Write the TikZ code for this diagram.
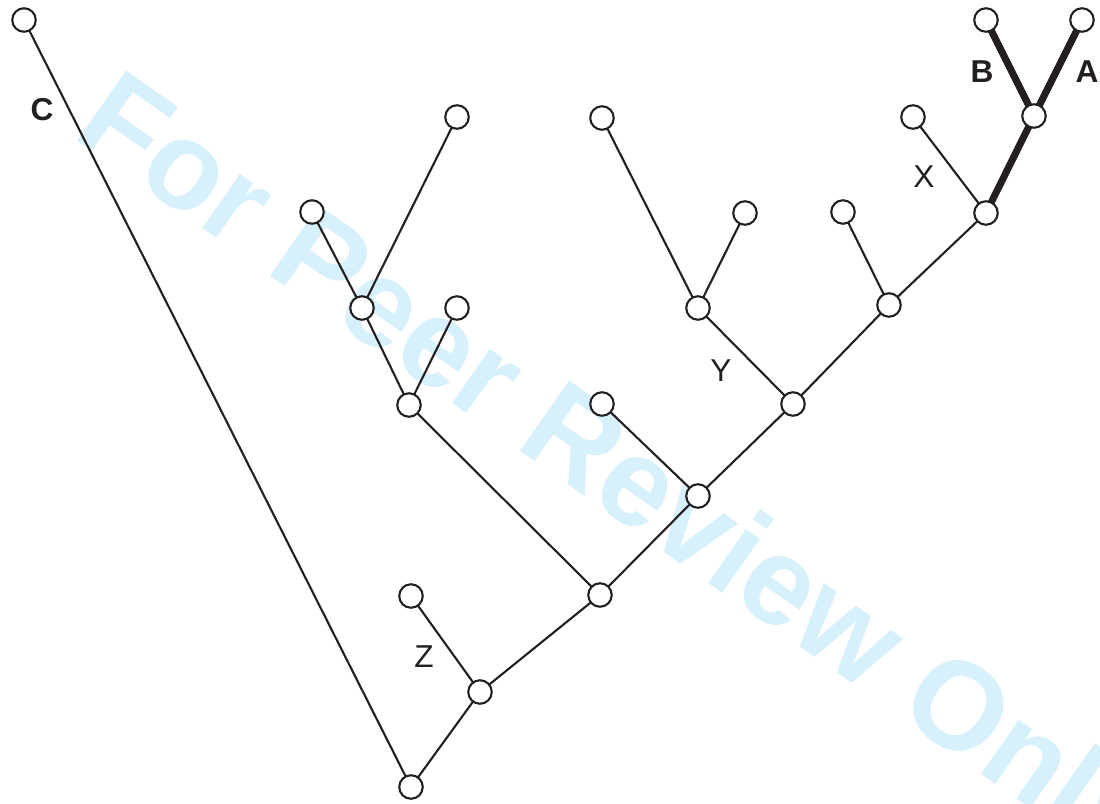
\documentclass[tikz,border=0pt]{standalone}
\usepackage{fontspec}
\setmainfont{Liberation Sans}
\definecolor{ink}{RGB}{35,31,32}
\definecolor{wmblue}{RGB}{214,240,252}
\begin{document}
\begin{tikzpicture}[x=0.01cm,y=-0.01cm,
  taxon/.style={circle,draw=ink,fill=white,line width=0.6pt,minimum size=0.235cm,inner sep=0pt},
  branch/.style={draw=ink,line width=0.6pt},
  heavy/.style={draw=ink,line width=2pt},
  lbl/.style={text=ink,font=\fontsize{9}{10}\selectfont},
  blbl/.style={text=ink,font=\fontsize{9}{10}\selectfont\bfseries}]
\useasboundingbox (0,0) rectangle (1100,803);

% watermark
\node[anchor=base west,rotate=-35,text=wmblue,inner sep=0pt,
  font=\fontsize{35.5}{40}\selectfont\bfseries] (wm) at (70,136) {For Peer Review Only};

% tree vertices
\coordinate (c)   at (24,20);
\coordinate (r)   at (411,787);
\coordinate (n1)  at (480,692);
\coordinate (z)   at (411,596);
\coordinate (n2)  at (600,595);
\coordinate (n3)  at (409,405);
\coordinate (n4)  at (362,308);
\coordinate (l1)  at (312,212);
\coordinate (l2)  at (457,117);
\coordinate (l3)  at (457,308);
\coordinate (n5)  at (698,496);
\coordinate (l4)  at (602,404);
\coordinate (n6)  at (793,404);
\coordinate (n7)  at (698,308);
\coordinate (l5)  at (602,118);
\coordinate (l6)  at (745,213);
\coordinate (n8)  at (889,305);
\coordinate (l7)  at (843,212);
\coordinate (n9)  at (986,213);
\coordinate (l8)  at (913,117);
\coordinate (n10) at (1034,116);
\coordinate (b)   at (986,20);
\coordinate (a)   at (1082,20);

% branches
\draw[branch] (c) -- (r);
\draw[branch] (r) -- (n1);
\draw[branch] (n1) -- (z);
\draw[branch] (n1) -- (n2);
\draw[branch] (n2) -- (n3);
\draw[branch] (n3) -- (n4);
\draw[branch] (n4) -- (l1);
\draw[branch] (n4) -- (l2);
\draw[branch] (n3) -- (l3);
\draw[branch] (n2) -- (n5);
\draw[branch] (n5) -- (l4);
\draw[branch] (n5) -- (n6);
\draw[branch] (n6) -- (n7);
\draw[branch] (n7) -- (l5);
\draw[branch] (n7) -- (l6);
\draw[branch] (n6) -- (n8);
\draw[branch] (n8) -- (l7);
\draw[branch] (n8) -- (n9);
\draw[branch] (n9) -- (l8);
\draw[heavy] (n9) -- (n10);
\draw[heavy] (n10) -- (b);
\draw[heavy] (n10) -- (a);

% vertex circles
\foreach \v in {c,r,n1,z,n2,n3,n4,l1,l2,l3,n5,l4,n6,n7,l5,l6,n8,l7,n9,l8,n10,b,a}
  \node[taxon] (v\v) at (\v) {};

% labels
\node[blbl] (tc) at (42,110) {C};
\node[blbl] (tb) at (982,72) {B};
\node[blbl] (ta) at (1087,72) {A};
\node[lbl] (tx) at (924,177) {X};
\node[lbl] (ty) at (721,371) {Y};
\node[lbl] (tz) at (424,657) {Z};
\end{tikzpicture}
\end{document}
